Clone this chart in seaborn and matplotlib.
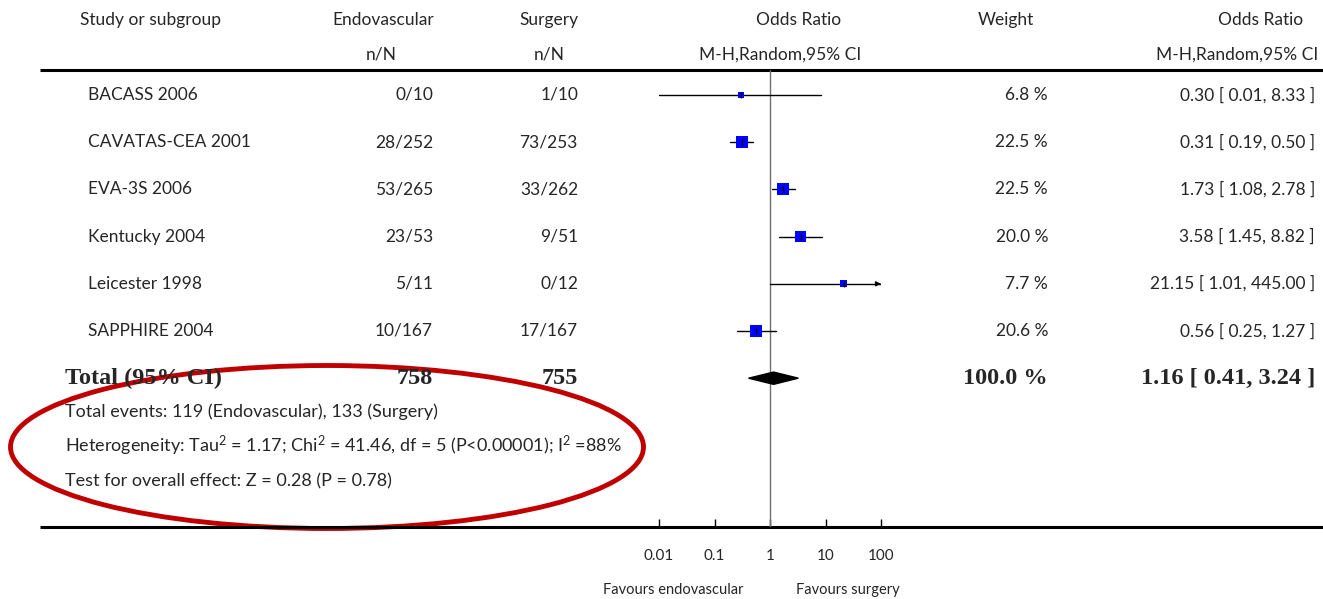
import matplotlib
matplotlib.use("Agg")
import matplotlib.pyplot as plt
from matplotlib.patches import Ellipse
import seaborn as sns
import pandas as pd

# ---- data ----
studies   = ["BACASS 2006", "CAVATAS-CEA 2001", "EVA-3S 2006", "Kentucky 2004",
             "Leicester 1998", "SAPPHIRE 2004"]
endo_nN   = ["0/10", "28/252", "53/265", "23/53", "5/11", "10/167"]
surg_nN   = ["1/10", "73/253", "33/262", "9/51", "0/12", "17/167"]
or_est    = [0.30, 0.31, 1.73, 3.58, 21.15, 0.56]
or_lo     = [0.01, 0.19, 1.08, 1.45, 1.01, 0.25]
or_hi     = [8.33, 0.50, 2.78, 8.82, 445.00, 1.27]
weights   = [6.8, 22.5, 22.5, 20.0, 7.7, 20.6]
total_est, total_lo, total_hi = 1.16, 0.41, 3.24
total_endo, total_surg = 758, 755
total_weight = 100.0
tick_vals = [0.01, 0.1, 1, 10, 100]
tick_labels = ["0.01", "0.1", "1", "10", "100"]

sns.set_theme(style="white")
plt.rcParams["font.family"] = ["Lato", "DejaVu Sans"]
plt.rcParams["mathtext.fontset"] = "custom"
plt.rcParams["mathtext.rm"] = "Lato"
plt.rcParams["mathtext.it"] = "Lato:italic"

W, H = 1323, 599
fig = plt.figure(figsize=(W / 100, H / 100), dpi=100)
fig.patch.set_facecolor("white")

# overlay in pixel coordinates for the table text
tab = fig.add_axes([0, 0, 1, 1])
tab.set_xlim(0, W)
tab.set_ylim(H, 0)
tab.axis("off")

FS = 12.5
FT = 13
row_y = [95 + 47.2 * i for i in range(7)]

# header
tab.text(80, 20, "Study or subgroup", fontsize=FS, va="center", ha="left")
tab.text(383, 20, "Endovascular", fontsize=FS, va="center", ha="center")
tab.text(381, 55, "n/N", fontsize=FS, va="center", ha="center")
tab.text(549, 20, "Surgery", fontsize=FS, va="center", ha="center")
tab.text(549, 55, "n/N", fontsize=FS, va="center", ha="center")
tab.text(799, 20, "Odds Ratio", fontsize=FS, va="center", ha="center")
tab.text(780, 55, "M-H,Random,95% CI", fontsize=FS, va="center", ha="center")
tab.text(1006, 20, "Weight", fontsize=FS, va="center", ha="center")
tab.text(1303, 20, "Odds Ratio", fontsize=FS, va="center", ha="right")
tab.text(1318, 55, "M-H,Random,95% CI", fontsize=FS, va="center", ha="right")

tab.plot([40, W], [70, 70], color="black", lw=2.2, solid_capstyle="butt")
tab.plot([40, W], [527, 527], color="black", lw=2.2, solid_capstyle="butt")

for i, s in enumerate(studies):
    y = row_y[i]
    tab.text(88, y, s, fontsize=FS, va="center", ha="left")
    tab.text(433, y, endo_nN[i], fontsize=FS, va="center", ha="right")
    tab.text(578, y, surg_nN[i], fontsize=FS, va="center", ha="right")
    tab.text(1048, y, f"{weights[i]:.1f} %", fontsize=FS, va="center", ha="right")
    tab.text(1315, y, f"{or_est[i]:.2f} [ {or_lo[i]:.2f}, {or_hi[i]:.2f} ]",
             fontsize=FS, va="center", ha="right")

ty = row_y[6]
serif = dict(family="Liberation Serif", fontweight="bold", fontsize=17.5, va="center")
tab.text(65, ty, "Total (95% CI)", ha="left", **serif)
tab.text(433, ty, f"{total_endo}", ha="right", **serif)
tab.text(578, ty, f"{total_surg}", ha="right", **serif)
tab.text(1048, ty, f"{total_weight:.1f} %", ha="right", **serif)
tab.text(1315, ty, f"{total_est:.2f} [ {total_lo:.2f}, {total_hi:.2f} ]", ha="right", **serif)

tab.text(65, 412, "Total events: 119 (Endovascular), 133 (Surgery)", fontsize=FT, va="center")
tab.text(65, 446, r"Heterogeneity: Tau$^2$ = 1.17; Chi$^2$ = 41.46, df = 5 (P<0.00001); I$^2$ =88%",
         fontsize=FT, va="center")
tab.text(65, 481, "Test for overall effect: Z = 0.28 (P = 0.78)", fontsize=FT, va="center")

tab.add_patch(Ellipse((327, 447), 633, 163, fill=False, edgecolor="#C00000", lw=3.5))

tab.text(673, 590, "Favours endovascular", fontsize=FS - 2, va="center", ha="center")
tab.text(848, 590, "Favours surgery", fontsize=FS - 2, va="center", ha="center")

# ---- forest axes ----
top_px, bot_px = 70, 527
ax = fig.add_axes([659 / W, (H - bot_px) / H, (881 - 659) / W, (bot_px - top_px) / H])
ax.patch.set_alpha(0)
ax.set_xscale("log")
xmin, xmax = 0.01, 100
ax.set_xlim(xmin, xmax)
ax.set_ylim((bot_px - 95) / 47.2, (top_px - 95) / 47.2)

df = pd.DataFrame({"study": studies, "row": range(len(studies)), "est": or_est,
                   "lo": or_lo, "hi": or_hi, "w": weights})

ax.axvline(1, color="#707070", lw=1, zorder=1)

for _, r in df.iterrows():
    lo = max(r["lo"], xmin)
    hi = min(r["hi"], xmax)
    ax.plot([lo, hi], [r["row"], r["row"]], color="black", lw=1, zorder=2)
    if r["hi"] > xmax:
        ax.annotate("", xy=(hi, r["row"]), xytext=(hi * 0.8, r["row"]),
                    arrowprops=dict(arrowstyle="-|>", color="black", lw=1,
                                    mutation_scale=7), zorder=2)

k = 3.4
sns.scatterplot(data=df, x="est", y="row", size="w",
                sizes=(k * min(weights), k * max(weights)),
                marker="s", color="#0000FF", linewidth=0, legend=False,
                ax=ax, zorder=3)
ax.scatter(df["est"], df["row"], marker="|", color="black", s=25, lw=1, zorder=4)

h = 0.13
ax.fill([total_lo, total_est, total_hi, total_est], [6, 6 - h, 6, 6 + h],
        color="black", zorder=3)

for sp in ax.spines.values():
    sp.set_visible(False)
ax.set_xticks(tick_vals)
ax.set_xticklabels(tick_labels, fontsize=FS - 1.5)
ax.minorticks_off()
ax.tick_params(axis="x", direction="in", length=6, width=1, color="black",
               pad=16, bottom=True)
ax.set_yticks([])
ax.set_xlabel("")
ax.set_ylabel("")
ax.grid(False)

fig.savefig("out.png", dpi=100, facecolor="white")
